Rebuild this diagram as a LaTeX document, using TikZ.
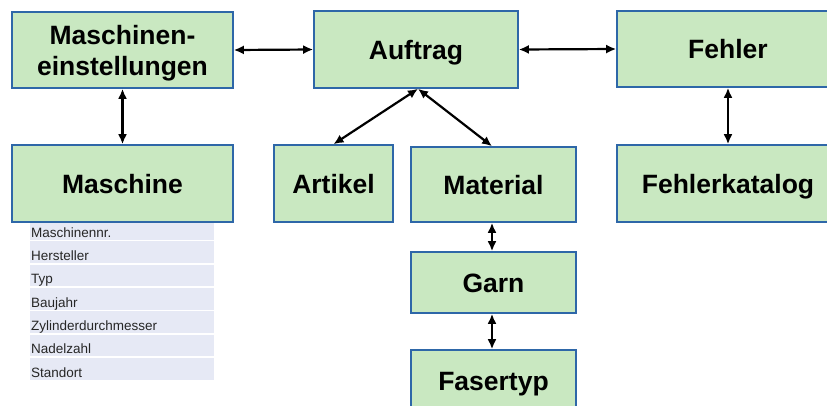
\documentclass[tikz,border=0pt]{standalone}
\usepackage{fontspec}
\setmainfont{Liberation Sans}
\usetikzlibrary{arrows.meta}
\definecolor{boxfill}{HTML}{C9E8C1}
\definecolor{boxline}{HTML}{2E67A8}
\definecolor{rowfill}{HTML}{E6E9F5}
\definecolor{rowtext}{HTML}{262626}
\tikzset{
  ent/.style={draw=boxline, fill=boxfill, line width=1.6pt, inner sep=0pt,
    font=\fontsize{26.5}{31}\selectfont\bfseries, text height=19pt, text depth=0pt},
  attr/.style={fill=rowfill, anchor=south west, inner xsep=1pt, inner ysep=0pt,
    text width=182pt, align=left, text height=19.1pt, text depth=2.7pt,
    font=\fontsize{13.5}{15}\selectfont, text=rowtext},
  link/.style={line width=2.2pt, {Latex[length=10pt,width=9pt]}-{Latex[length=10pt,width=9pt]}}
}
\begin{document}
\begin{tikzpicture}[x=1pt,y=-1pt]
\useasboundingbox (0,0) rectangle (827,405);
\clip (0,0) rectangle (827,405);
% attribute table
\node[attr] (r0) at (30,240) {Maschinennr.};
\node[attr] (r1) at (30,263.33) {Hersteller};
\node[attr] (r2) at (30,286.67) {Typ};
\node[attr] (r3) at (30,310) {Baujahr};
\node[attr] (r4) at (30,333.33) {Zylinderdurchmesser};
\node[attr] (r5) at (30,356.67) {Nadelzahl};
\node[attr] (r6) at (30,380) {Standort};
% entities
\node[ent, minimum width=221pt, minimum height=76pt, align=center, text height={}] (me) at (122.5,50) {Maschinen-\\einstellungen};
\node[ent, minimum width=204pt, minimum height=77pt] (auf) at (416,49.5) {Auftrag};
\node[ent, minimum width=222pt, minimum height=76pt] (feh) at (728,49) {Fehler};
\node[ent, minimum width=221pt, minimum height=77pt] (mas) at (122.5,183.5) {Maschine};
\node[ent, minimum width=119pt, minimum height=77pt] (art) at (333.5,183.5) {Artikel};
\node[ent, minimum width=165pt, minimum height=75pt] (mat) at (493.5,184.5) {Material};
\node[ent, minimum width=222pt, minimum height=77pt] (fk) at (728,183.5) {Fehlerkatalog};
\node[ent, minimum width=165pt, minimum height=61pt] (garn) at (493.5,282.5) {Garn};
\node[ent, minimum width=165pt, minimum height=62pt] (fas) at (493.5,381) {Fasertyp};
% connectors
\draw[link] (me.east) -- (auf.west);
\draw[link] (auf.east) -- (feh.west);
\draw[link] (me.south) -- (mas.north);
\draw[link] (feh.south) -- (fk.north);
\draw[link] ([xshift=2pt]auf.south) -- (art.north);
\draw[link] ([xshift=2pt]auf.south) -- ([xshift=-1.5pt]mat.north);
\draw[link] ([xshift=-1.5pt]mat.south) -- ([xshift=-1.5pt]garn.north);
\draw[link] ([xshift=-1.5pt]garn.south) -- ([xshift=-1.5pt]fas.north);
\end{tikzpicture}
\end{document}
